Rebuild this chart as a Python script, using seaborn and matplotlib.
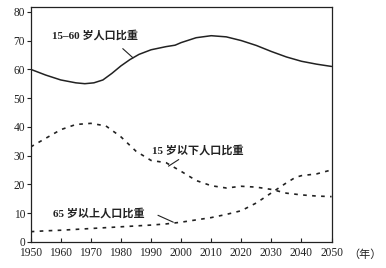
import matplotlib
matplotlib.use("Agg")
import matplotlib.pyplot as plt
import seaborn as sns
import pandas as pd

sns.set_theme(style="white")
plt.rcParams['font.family'] = ['Liberation Serif', 'Noto Sans CJK SC']

years_a = [1950, 1955, 1960, 1965, 1968, 1971, 1974, 1977, 1980, 1983, 1986, 1990,
           1995, 1998, 2000, 2005, 2010, 2015, 2020, 2025, 2030, 2035, 2040, 2045, 2050]
age_15_60 = [60.0, 58.0, 56.3, 55.3, 55.0, 55.3, 56.3, 58.6, 61.2, 63.4, 65.2, 66.8,
             67.9, 68.4, 69.3, 71.0, 71.7, 71.3, 70.0, 68.3, 66.2, 64.3, 62.8, 61.8, 61.0]

years_b = [1950, 1955, 1960, 1965, 1970, 1975, 1980, 1985, 1990, 1995, 2000,
           2005, 2010, 2015, 2020, 2025, 2030, 2035, 2040, 2045, 2050]
under_15 = [33.0, 36.0, 39.0, 40.8, 41.2, 40.3, 36.5, 31.5, 28.3, 27.5, 24.5,
            21.3, 19.5, 18.7, 19.3, 19.0, 18.2, 16.9, 16.3, 15.9, 15.7]

years_c = [1950, 1955, 1960, 1965, 1970, 1975, 1980, 1985, 1990, 1995, 2000,
           2005, 2010, 2015, 2020, 2025, 2030, 2035, 2038, 2040, 2045, 2050]
over_65 = [3.5, 3.8, 4.0, 4.3, 4.6, 4.9, 5.2, 5.5, 5.8, 6.2, 6.8,
           7.6, 8.4, 9.5, 10.8, 13.5, 17.0, 20.5, 22.4, 23.0, 23.6, 25.0]

x_ticks = [1950, 1960, 1970, 1980, 1990, 2000, 2010, 2020, 2030, 2040, 2050]
y_ticks = [0, 10, 20, 30, 40, 50, 60, 70, 80]

fig = plt.figure(figsize=(3.86, 2.68), dpi=100)
ax = fig.add_axes([0.0795, 0.098, 0.7795, 0.876])

ink = '#222222'
sns.lineplot(x=years_a, y=age_15_60, ax=ax, color=ink, lw=1.1)
sns.lineplot(x=years_b, y=under_15, ax=ax, color=ink, lw=1.2, ls=(0, (2.2, 3.2)))
sns.lineplot(x=years_c, y=over_65, ax=ax, color=ink, lw=1.2, ls=(0, (2.2, 3.2)))

ax.set_xlim(1950, 2050)
ax.set_ylim(0, 81.7)
ax.set_xticks(x_ticks)
ax.set_yticks(y_ticks)
ax.tick_params(axis='x', direction='in', length=3, width=0.8, pad=4, labelsize=8.3, colors=ink)
ax.tick_params(axis='y', direction='out', length=3, width=0.8, pad=1, labelsize=8.3, colors=ink)
ax.tick_params(axis='both', which='both', left=True, bottom=True)
for s in ax.spines.values():
    s.set_color(ink)
    s.set_linewidth(0.9)
ax.set_xlabel('')
ax.set_ylabel('')

tkw = dict(fontsize=8, color=ink, fontweight='bold', va='center', ha='left')
ax.text(1957, 72, '15–60 岁人口比重', **tkw)
ax.text(1990.3, 32, '15 岁以下人口比重', **tkw)
ax.text(1957.4, 10, '65 岁以上人口比重', **tkw)

lkw = dict(arrowprops=dict(arrowstyle='-', color=ink, lw=0.8, shrinkA=0, shrinkB=0))
ax.annotate('', xy=(1984, 64.0), xytext=(1980.6, 67.2), **lkw)
ax.annotate('', xy=(1995.8, 26.3), xytext=(1999.2, 28.6), **lkw)
ax.annotate('', xy=(1997.4, 6.8), xytext=(1992.3, 9.2), **lkw)

fig.text(365 / 386, 1 - 255 / 268, '（年）', fontsize=8, color=ink, ha='center', va='center')

fig.savefig('out.png', dpi=100, facecolor='white')
